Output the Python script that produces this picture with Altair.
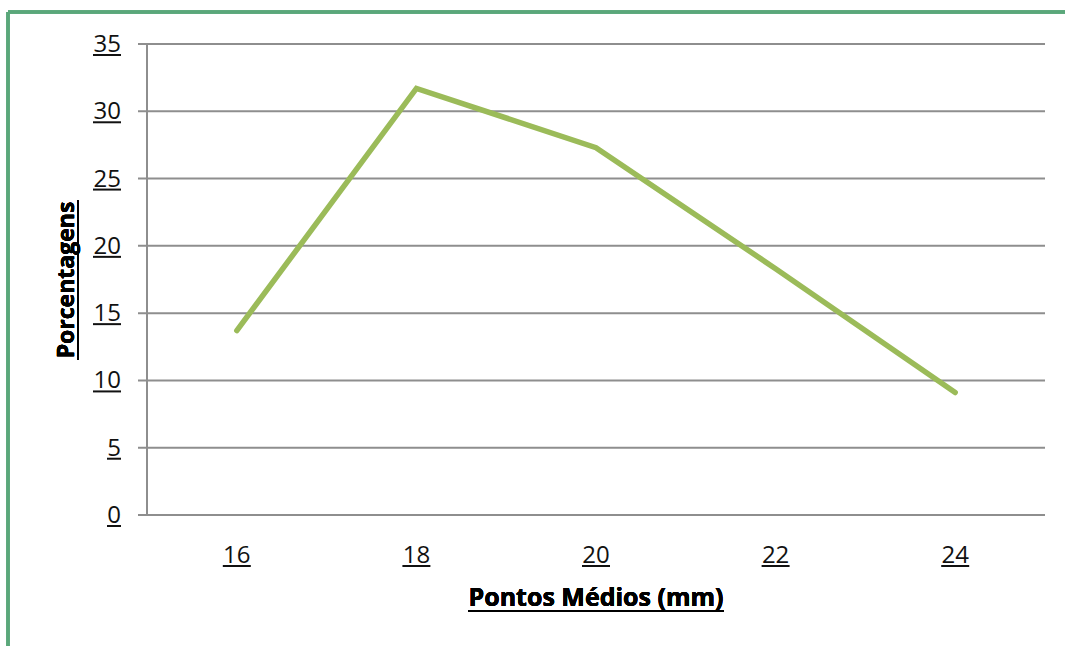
import altair as alt
import pandas as pd

# Midpoints of the classes (mm) and their percentages
pontos = ["16", "18", "20", "22", "24"]
porcentagens = [13.7, 31.7, 27.3, 18.3, 9.1]

# Y axis tick values
y_ticks = [0, 5, 10, 15, 20, 25, 30, 35]

x_title = "Pontos Médios (mm)"
y_title = "Porcentagens"

FONT = "Open Sans"
TEXT = "#111111"
GRID = "#8e8e8e"
W, H = 898, 471

df = pd.DataFrame({"ponto": pontos, "pct": porcentagens})
ticks_df = pd.DataFrame({"pct": y_ticks, "label": [str(v) for v in y_ticks]})
ticks_df["digits"] = ticks_df["label"].str.len()

xs = alt.X("ponto:N", sort=pontos, scale=alt.Scale(paddingInner=0, paddingOuter=0), axis=None)
ys = alt.Y("pct:Q", scale=alt.Scale(domain=[0, 35], nice=False), axis=None)

# horizontal gridlines, each continuing as a tick to the left of the axis
grid = alt.Chart(ticks_df).mark_rule(color=GRID, strokeWidth=2).encode(
    y=ys, x=alt.value(-9), x2=alt.value(W)
)
# vertical axis line
domain = alt.Chart(ticks_df).mark_rule(color=GRID, strokeWidth=2).encode(
    x=alt.value(0), y=alt.value(0), y2=alt.value(H)
)

# y tick labels (underlined)
ylab = alt.Chart(ticks_df).mark_text(
    font=FONT, fontSize=24, align="right", baseline="alphabetic", dy=8, color=TEXT
).encode(y=ys, x=alt.value(-26), text="label:N")
yul_1 = (
    alt.Chart(ticks_df)
    .transform_filter("datum.digits == 1")
    .mark_rule(strokeWidth=2, color=TEXT, yOffset=11)
    .encode(y=ys, x=alt.value(-40), x2=alt.value(-26))
)
yul_2 = (
    alt.Chart(ticks_df)
    .transform_filter("datum.digits == 2")
    .mark_rule(strokeWidth=2, color=TEXT, yOffset=11)
    .encode(y=ys, x=alt.value(-54), x2=alt.value(-26))
)

# x tick labels (underlined)
xlab = alt.Chart(df).mark_text(
    font=FONT, fontSize=24, align="center", baseline="alphabetic", color=TEXT
).encode(x=xs, y=alt.value(519), text="ponto:N")
xul = alt.Chart(df).mark_bar(width=28, color=TEXT).encode(
    x=xs, y=alt.value(521), y2=alt.value(523)
)

# axis titles (bold, underlined)
xt = alt.Chart(df).mark_text(
    font=FONT, fontSize=25, fontWeight="bold", align="center", baseline="alphabetic", color="#000000"
).encode(x=alt.value(449), y=alt.value(562), text=alt.value(x_title))
xt_ul = alt.Chart(df).mark_rule(color="#000000", strokeWidth=2).encode(
    x=alt.value(321), x2=alt.value(577), y=alt.value(567)
)
yt = alt.Chart(df).mark_text(
    font=FONT, fontSize=23, fontWeight="bold", align="center", baseline="alphabetic",
    angle=270, color="#000000"
).encode(x=alt.value(-73), y=alt.value(236), text=alt.value(y_title))
yt_ul = alt.Chart(df).mark_rule(color="#000000", strokeWidth=2).encode(
    x=alt.value(-69), y=alt.value(156), y2=alt.value(316)
)

line = alt.Chart(df).mark_line(
    color="#9BBB59", strokeWidth=5.5, strokeCap="round", strokeJoin="miter"
).encode(x=xs, y=ys)

# green frame of the chart box (top and left edges)
frame_top = alt.Chart(df).mark_rule(color="#5aa77a", strokeWidth=3).encode(
    x=alt.value(-139), x2=alt.value(930), y=alt.value(-32)
)
frame_left = alt.Chart(df).mark_rule(color="#5aa77a", strokeWidth=3).encode(
    x=alt.value(-139), y=alt.value(-32), y2=alt.value(620)
)

chart = (
    alt.layer(
        frame_top, frame_left, grid, domain, ylab, yul_1, yul_2,
        xlab, xul, xt, xt_ul, yt, yt_ul, line,
    )
    .properties(
        width=W,
        height=H,
        padding={"left": 147, "top": 44, "right": 20, "bottom": 131},
        autosize=alt.AutoSizeParams(type="none"),
        background="#ffffff",
    )
    .configure_view(stroke=None)
)

chart.save("out.html", embed_options={"renderer": "svg", "actions": False})
